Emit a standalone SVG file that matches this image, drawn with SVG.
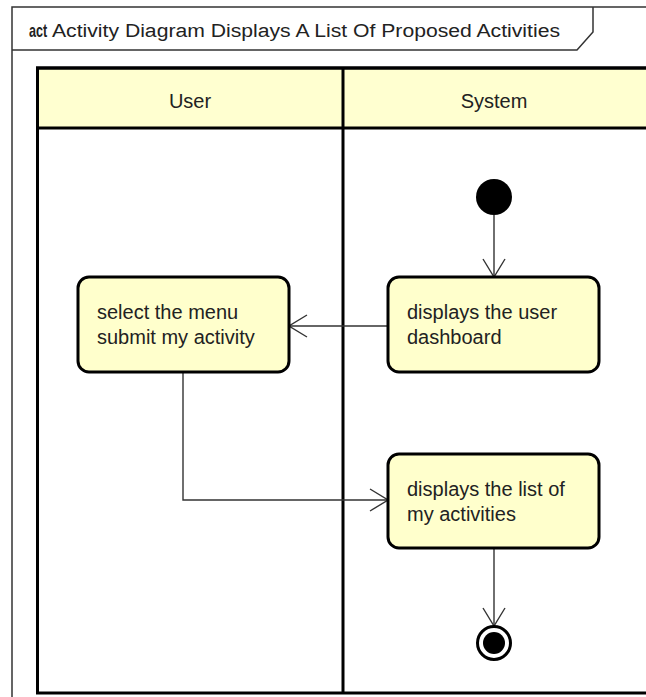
<svg xmlns="http://www.w3.org/2000/svg" width="646" height="697" viewBox="0 0 646 697">
<defs>
<style>
.txt{font-family:"Liberation Sans",Arial,sans-serif;font-size:20px;fill:#222}
.lane{fill:none;stroke:#000;stroke-width:3}
.hdr{fill:#FFFFD0;stroke:#000;stroke-width:3}
.act{fill:#FFFFCC;stroke:#000;stroke-width:3}
.conn{fill:none;stroke:#333;stroke-width:1.4}
.frame{fill:none;stroke:#333;stroke-width:1.5}
</style>
<marker id="open" viewBox="0 0 20 24" refX="19" refY="12" markerWidth="20" markerHeight="24" markerUnits="userSpaceOnUse" orient="auto">
<path d="M1,1 L19,12 L1,23" fill="none" stroke="#333" stroke-width="1.4"/>
</marker>
</defs>
<rect width="646" height="697" fill="#fff"/>
<g id="frame">
<path class="frame" d="M12,700 L12,7 L660,7"/>
<path class="frame" d="M12,50 L577,50 L593,32 L593,7"/>
<text class="txt" transform="translate(29,37) scale(0.7,1)" style="font-size:18px" font-weight="bold">act</text>
<text x="52" y="37" class="txt" style="font-size:18px" textLength="508" lengthAdjust="spacingAndGlyphs">Activity Diagram Displays A List Of Proposed Activities</text>
</g>
<g id="swimlanes">
<rect class="hdr" x="37.5" y="68" width="620" height="60"/>
<rect class="lane" x="37.5" y="68" width="620" height="625"/>
<line class="lane" x1="343" y1="68" x2="343" y2="693"/>
<text x="190" y="108" class="txt" text-anchor="middle">User</text>
<text x="494" y="108" class="txt" text-anchor="middle">System</text>
</g>
<g id="connectors">
<line class="conn" x1="494" y1="215" x2="494" y2="277" marker-end="url(#open)"/>
<line class="conn" x1="388" y1="326" x2="289" y2="326" marker-end="url(#open)"/>
<polyline class="conn" points="183,372 183,500 388,500" marker-end="url(#open)"/>
<line class="conn" x1="494" y1="548" x2="494" y2="626" marker-end="url(#open)"/>
</g>
<g id="initial">
<circle cx="494" cy="197" r="18" fill="#000"/>
</g>
<g id="dashboard">
<rect class="act" x="388" y="277" width="211" height="95" rx="11"/>
<text class="txt" x="407" y="319">displays the user</text>
<text class="txt" x="407" y="344">dashboard</text>
</g>
<g id="selectMenu">
<rect class="act" x="78" y="277" width="211" height="95" rx="11"/>
<text class="txt" x="97" y="319">select the menu</text>
<text class="txt" x="97" y="344">submit my activity</text>
</g>
<g id="listActivities">
<rect class="act" x="388" y="454" width="211" height="94" rx="11"/>
<text class="txt" x="407" y="496">displays the list of</text>
<text class="txt" x="407" y="521">my activities</text>
</g>
<g id="final">
<circle cx="494" cy="643" r="16.5" fill="#fff" stroke="#000" stroke-width="3"/>
<circle cx="494" cy="643" r="11" fill="#000"/>
</g>
</svg>
